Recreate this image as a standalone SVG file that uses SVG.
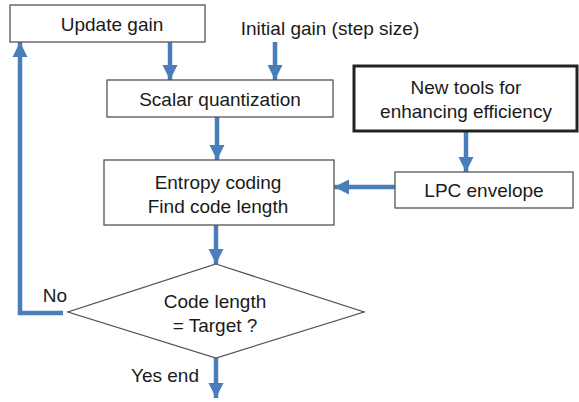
<svg xmlns="http://www.w3.org/2000/svg" width="579" height="402" viewBox="0 0 579 402">
<style>
.box{fill:#fff;stroke:#555;stroke-width:1.3}
.thick{fill:#fff;stroke:#222;stroke-width:3}
.t{font-family:"Liberation Sans",Arial,sans-serif;font-size:19px;fill:#1a1a1a;text-anchor:middle}
.c{stroke:#4a7ebb;stroke-width:4.5;fill:none}
</style>
<defs>
<marker id="ah" markerUnits="userSpaceOnUse" markerWidth="18" markerHeight="18" refX="15" refY="9" orient="auto">
<path d="M0,1.5 L15,9 L0,16.5 Z" fill="#4a7ebb"/>
</marker>
</defs>
<rect width="579" height="402" fill="#fff"/>
<g id="connectors">
<path class="c" d="M170,42 V80" marker-end="url(#ah)"/>
<path class="c" d="M275,42 V80" marker-end="url(#ah)"/>
<path class="c" d="M217,117 V160" marker-end="url(#ah)"/>
<path class="c" d="M466,132 V172" marker-end="url(#ah)"/>
<path class="c" d="M395,187 H334" marker-end="url(#ah)"/>
<path class="c" d="M216,225 V264" marker-end="url(#ah)"/>
<path class="c" d="M216,358 V398" marker-end="url(#ah)"/>
<path class="c" d="M63,313 H20 V42" marker-end="url(#ah)"/>
</g>
<g id="update-gain">
<rect class="box" x="10" y="5" width="195" height="37"/>
<text class="t" x="112" y="31">Update gain</text>
</g>
<g id="initial-gain">
<text class="t" x="330" y="35">Initial gain (step size)</text>
</g>
<g id="scalar-quantization">
<rect class="box" x="107" y="80" width="226" height="37"/>
<text class="t" x="220" y="106">Scalar quantization</text>
</g>
<g id="new-tools">
<rect class="thick" x="354" y="66" width="223" height="65"/>
<text class="t" x="466" y="94">New tools for</text>
<text class="t" x="466" y="118">enhancing efficiency</text>
</g>
<g id="lpc-envelope">
<rect class="box" x="395" y="172" width="178" height="36"/>
<text class="t" x="484" y="197">LPC envelope</text>
</g>
<g id="entropy-coding">
<rect class="box" x="104" y="160" width="230" height="65"/>
<text class="t" x="218" y="189">Entropy coding</text>
<text class="t" x="218" y="213">Find code length</text>
</g>
<g id="decision">
<polygon class="box" points="216,264 364,312 216,358 68,312"/>
<text class="t" x="215" y="308">Code length</text>
<text class="t" x="215" y="332">= Target ?</text>
<text class="t" x="55" y="302">No</text>
<text class="t" x="165" y="382">Yes end</text>
</g>
</svg>
